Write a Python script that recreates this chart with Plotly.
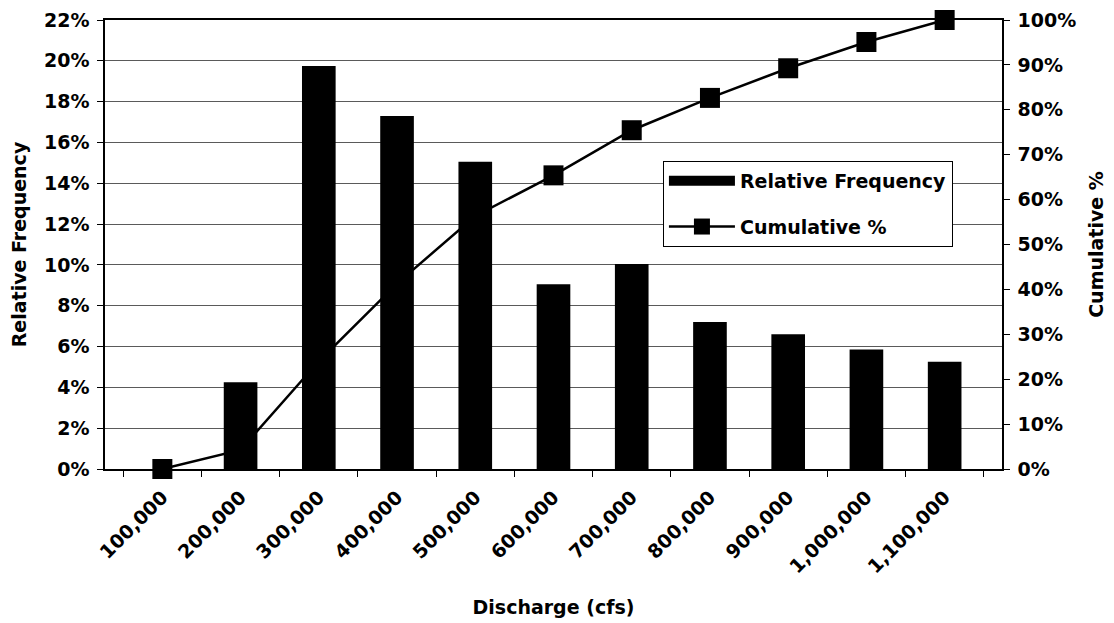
import plotly.graph_objects as go

categories = ["100,000", "200,000", "300,000", "400,000", "500,000", "600,000",
              "700,000", "800,000", "900,000", "1,000,000", "1,100,000"]
relative_frequency = [0.0, 4.25, 19.75, 17.3, 15.05, 9.05, 10.05, 7.2, 6.6, 5.85, 5.25]
cumulative_pct = [0.0, 4.25, 24.0, 41.3, 56.35, 65.4, 75.45, 82.65, 89.25, 95.1, 100.0]

FONT = "DejaVu Sans, Liberation Sans, Arial"
tick_font = dict(family=FONT, size=19, color="black", weight="bold")
title_font = dict(family=FONT, size=19, color="black", weight="bold")

fig = go.Figure()
fig.add_trace(go.Bar(
    x=categories, y=relative_frequency, name="Relative Frequency",
    marker=dict(color="black", line=dict(width=0)), yaxis="y2",
    showlegend=False,
))
# legend proxy for the bar series (wide black swatch)
fig.add_trace(go.Scatter(
    x=[None], y=[None], name="Relative Frequency", mode="lines",
    line=dict(color="black", width=13), yaxis="y2", legendgroup="a",
))
fig.add_trace(go.Scatter(
    x=categories, y=cumulative_pct, name="Cumulative %", mode="lines+markers",
    line=dict(color="black", width=2.5),
    marker=dict(symbol="square", size=20, color="black"),
    yaxis="y", cliponaxis=False, legendgroup="b",
))

# page body has an 8px default margin, so the figure is offset by 8px
fig.update_layout(
    width=1106, height=615,
    margin=dict(l=97, r=112, t=12, b=154),
    paper_bgcolor="white", plot_bgcolor="white",
    bargap=0.57,
    showlegend=True,
    legend=dict(
        x=0.622, y=0.686, xanchor="left", yanchor="top",
        bgcolor="white", bordercolor="black", borderwidth=1,
        font=dict(family=FONT, size=19, color="black", weight="bold"),
        traceorder="grouped", itemwidth=66, tracegroupgap=18,
    ),
    xaxis=dict(
        type="category", tickangle=-45, tickfont=tick_font, automargin=False,
        showline=True, linecolor="black", linewidth=1.5, mirror=True,
        ticks="outside", ticklen=6, tickcolor="black", tickson="boundaries",
        showgrid=False, ticklabelstandoff=8,
        title=dict(text="Discharge (cfs)", font=title_font, standoff=24),
    ),
    yaxis=dict(
        side="right", range=[0, 100], tickvals=list(range(0, 101, 10)),
        ticktext=[f"{v}%" for v in range(0, 101, 10)], automargin=False,
        tickfont=tick_font, showgrid=False, zeroline=False,
        showline=True, linecolor="black", linewidth=1.5,
        ticks="outside", ticklen=6, tickcolor="black", ticklabelstandoff=4,
        title=dict(text="Cumulative %", font=title_font, standoff=14),
    ),
    yaxis2=dict(
        overlaying="y", side="left", range=[0, 22], tickvals=list(range(0, 23, 2)),
        ticktext=[f"{v}%" for v in range(0, 23, 2)], automargin=False,
        tickfont=tick_font, showgrid=True, gridcolor="#5a5a5a", gridwidth=1,
        zeroline=False, showline=True, linecolor="black", linewidth=1.5,
        ticks="outside", ticklen=6, tickcolor="black", ticklabelstandoff=4,
        title=dict(text="Relative Frequency", font=title_font, standoff=12),
    ),
)

fig.write_html("out.html")
